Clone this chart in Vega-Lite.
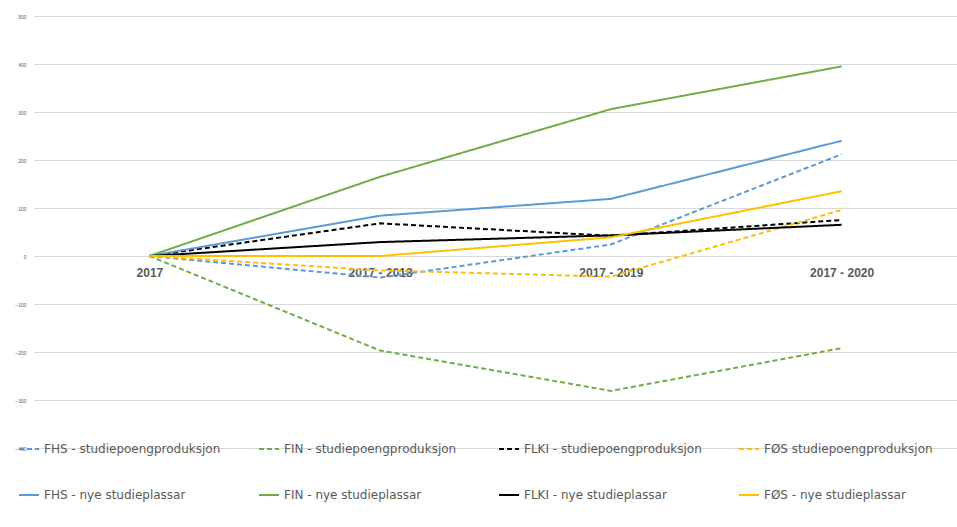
{
  "$schema": "https://vega.github.io/schema/vega-lite/v6.json",
  "autosize": {"type": "none"},
  "padding": {"left": 34, "top": 16, "right": 0, "bottom": 79},
  "width": 923,
  "height": 432,
  "background": "white",
  "data": {
    "values": [
      {"serie": "FHS - studiepoengproduksjon", "periode": "2017", "verdi": 0},
      {"serie": "FHS - studiepoengproduksjon", "periode": "2017 - 2018", "verdi": -45},
      {"serie": "FHS - studiepoengproduksjon", "periode": "2017 - 2019", "verdi": 24},
      {"serie": "FHS - studiepoengproduksjon", "periode": "2017 - 2020", "verdi": 212},
      {"serie": "FIN - studiepoengproduksjon", "periode": "2017", "verdi": 0},
      {"serie": "FIN - studiepoengproduksjon", "periode": "2017 - 2018", "verdi": -197},
      {"serie": "FIN - studiepoengproduksjon", "periode": "2017 - 2019", "verdi": -281},
      {"serie": "FIN - studiepoengproduksjon", "periode": "2017 - 2020", "verdi": -192},
      {"serie": "FLKI - studiepoengproduksjon", "periode": "2017", "verdi": 0},
      {"serie": "FLKI - studiepoengproduksjon", "periode": "2017 - 2018", "verdi": 68},
      {"serie": "FLKI - studiepoengproduksjon", "periode": "2017 - 2019", "verdi": 42},
      {"serie": "FLKI - studiepoengproduksjon", "periode": "2017 - 2020", "verdi": 75},
      {"serie": "FØS studiepoengproduksjon", "periode": "2017", "verdi": 0},
      {"serie": "FØS studiepoengproduksjon", "periode": "2017 - 2018", "verdi": -30},
      {"serie": "FØS studiepoengproduksjon", "periode": "2017 - 2019", "verdi": -43},
      {"serie": "FØS studiepoengproduksjon", "periode": "2017 - 2020", "verdi": 96},
      {"serie": "FHS - nye studieplassar", "periode": "2017", "verdi": 0},
      {"serie": "FHS - nye studieplassar", "periode": "2017 - 2018", "verdi": 84},
      {"serie": "FHS - nye studieplassar", "periode": "2017 - 2019", "verdi": 119},
      {"serie": "FHS - nye studieplassar", "periode": "2017 - 2020", "verdi": 240},
      {"serie": "FIN - nye studieplassar", "periode": "2017", "verdi": 0},
      {"serie": "FIN - nye studieplassar", "periode": "2017 - 2018", "verdi": 165},
      {"serie": "FIN - nye studieplassar", "periode": "2017 - 2019", "verdi": 306},
      {"serie": "FIN - nye studieplassar", "periode": "2017 - 2020", "verdi": 395},
      {"serie": "FLKI - nye studieplassar", "periode": "2017", "verdi": 0},
      {"serie": "FLKI - nye studieplassar", "periode": "2017 - 2018", "verdi": 29},
      {"serie": "FLKI - nye studieplassar", "periode": "2017 - 2019", "verdi": 43},
      {"serie": "FLKI - nye studieplassar", "periode": "2017 - 2020", "verdi": 65},
      {"serie": "FØS - nye studieplassar", "periode": "2017", "verdi": 0},
      {"serie": "FØS - nye studieplassar", "periode": "2017 - 2018", "verdi": 0},
      {"serie": "FØS - nye studieplassar", "periode": "2017 - 2019", "verdi": 39},
      {"serie": "FØS - nye studieplassar", "periode": "2017 - 2020", "verdi": 135}
    ]
  },
  "mark": {"type": "line", "strokeWidth": 2},
  "encoding": {
    "x": {
      "field": "periode",
      "type": "ordinal",
      "sort": ["2017", "2017 - 2018", "2017 - 2019", "2017 - 2020"],
      "scale": {"type": "point", "padding": 0.5},
      "axis": {
        "title": null,
        "orient": "bottom",
        "offset": -192,
        "domain": false,
        "ticks": false,
        "grid": false,
        "labelAngle": 0,
        "labelPadding": 11,
        "labelFont": "Liberation Sans",
        "labelFontWeight": "bold",
        "labelFontSize": 12,
        "labelColor": "#595959"
      }
    },
    "y": {
      "field": "verdi",
      "type": "quantitative",
      "scale": {"domain": [-400, 500], "nice": false, "zero": false},
      "axis": {
        "title": null,
        "values": [-400, -300, -200, -100, 0, 100, 200, 300, 400, 500],
        "domain": false,
        "ticks": false,
        "grid": true,
        "gridColor": "#D9D9D9",
        "gridWidth": 1,
        "labelFont": "Liberation Sans",
        "labelFontSize": 5,
        "labelColor": "#595959",
        "labelPadding": 8
      }
    },
    "color": {
      "field": "serie",
      "type": "nominal",
      "sort": null,
      "scale": {
        "domain": [
          "FHS - studiepoengproduksjon",
          "FIN - studiepoengproduksjon",
          "FLKI - studiepoengproduksjon",
          "FØS studiepoengproduksjon",
          "FHS - nye studieplassar",
          "FIN - nye studieplassar",
          "FLKI - nye studieplassar",
          "FØS - nye studieplassar"
        ],
        "range": ["#5B9BD5", "#70AD47", "#000000", "#FFC000", "#5B9BD5", "#70AD47", "#000000", "#FFC000"]
      },
      "legend": {
        "title": null,
        "orient": "none",
        "direction": "horizontal",
        "legendX": -16,
        "legendY": 422,
        "columns": 4,
        "symbolType": "stroke",
        "symbolSize": 400,
        "symbolStrokeWidth": 2,
        "labelFont": "DejaVu Sans",
        "labelFontSize": 12,
        "labelColor": "#595959",
        "labelOffset": 4,
        "labelLimit": 400,
        "columnPadding": 33,
        "rowPadding": 29,
        "gridAlign": "all",
        "padding": 0
      }
    },
    "strokeDash": {
      "field": "serie",
      "type": "nominal",
      "sort": null,
      "scale": {
        "domain": [
          "FHS - studiepoengproduksjon",
          "FIN - studiepoengproduksjon",
          "FLKI - studiepoengproduksjon",
          "FØS studiepoengproduksjon",
          "FHS - nye studieplassar",
          "FIN - nye studieplassar",
          "FLKI - nye studieplassar",
          "FØS - nye studieplassar"
        ],
        "range": [[5, 3], [5, 3], [5, 3], [5, 3], [1, 0], [1, 0], [1, 0], [1, 0]]
      },
      "legend": null
    }
  },
  "config": {
    "view": {"stroke": null}
  }
}
